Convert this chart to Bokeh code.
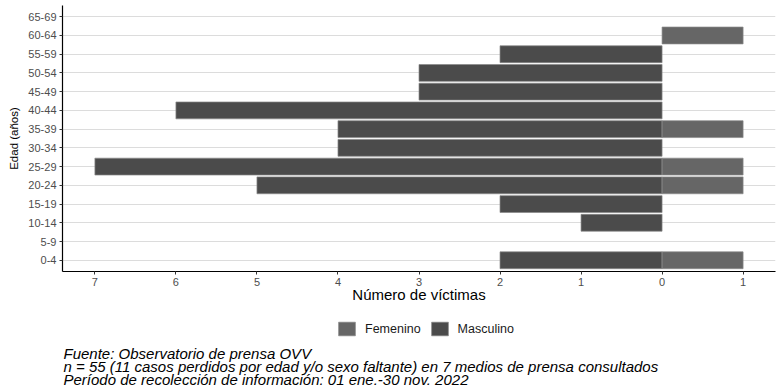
from bokeh.plotting import figure
from bokeh.models import (Range1d, FixedTicker, Legend, LegendItem, Label,
                          ColumnDataSource)
from bokeh.layouts import column
from bokeh.embed import file_html
from bokeh.resources import INLINE

# ---- data ----
edades = ["0-4", "5-9", "10-14", "15-19", "20-24", "25-29", "30-34",
          "35-39", "40-44", "45-49", "50-54", "55-59", "60-64", "65-69"]
masculino = [2, 0, 1, 2, 5, 7, 4, 4, 6, 3, 3, 2, 0, 0]
femenino = [1, 0, 0, 0, 1, 1, 0, 1, 0, 0, 0, 0, 1, 0]
x_ticks = [-7, -6, -5, -4, -3, -2, -1, 0, 1]
caption = ["Fuente: Observatorio de prensa OVV",
           "n = 55 (11 casos perdidos por edad y/o sexo faltante) en 7 medios de prensa consultados",
           "Período de recolección de información: 01 ene.-30 nov. 2022"]

FONT = "Liberation Sans"
C_M = "#4b4b4b"
C_F = "#666666"
C_LINE = "#8a8a8a"

ym = [i for i, v in enumerate(masculino) if v > 0]
yf = [i for i, v in enumerate(femenino) if v > 0]
src_m = ColumnDataSource(dict(y=ym, left=[-masculino[i] for i in ym],
                              right=[0] * len(ym)))
src_f = ColumnDataSource(dict(y=yf, left=[0] * len(yf),
                              right=[femenino[i] for i in yf]))

L, R = 62, 775
H1 = 307
p = figure(width=781, height=H1, output_backend="svg", toolbar_location=None,
           x_range=Range1d(-7.4, 1.4), y_range=Range1d(-0.6, 13.6),
           frame_width=R - L, frame_height=266,
           min_border_left=L, min_border_right=781 - R, min_border_top=5,
           min_border_bottom=H1 - 271)
p.outline_line_color = None

rm = p.hbar(y="y", left="left", right="right", height=0.9, source=src_m,
            fill_color=C_M, line_color=C_LINE, line_width=0.7)
rf = p.hbar(y="y", left="left", right="right", height=0.9, source=src_f,
            fill_color=C_F, line_color=C_LINE, line_width=0.7)

p.xaxis.ticker = FixedTicker(ticks=x_ticks)
p.xaxis.major_label_overrides = {t: str(abs(t)) for t in x_ticks}
pos = list(range(len(edades)))
p.yaxis.ticker = FixedTicker(ticks=pos)
p.yaxis.major_label_overrides = {i: e for i, e in enumerate(edades)}
for ax in (p.xaxis[0], p.yaxis[0]):
    ax.axis_line_color = "black"
    ax.axis_line_width = 1.2
    ax.major_tick_line_color = "#333333"
    ax.major_tick_in = 0
    ax.major_tick_out = 3
    ax.minor_tick_line_color = None
    ax.major_label_text_font = FONT
    ax.major_label_text_font_size = "11px"
    ax.major_label_text_color = "#4d4d4d"
    ax.axis_label_text_font = FONT
    ax.axis_label_text_font_style = "normal"
    ax.axis_label_text_color = "black"
p.xaxis.axis_label = "Número de víctimas"
p.yaxis.axis_label = "Edad (años)"
p.xaxis.axis_label_text_font_size = "15px"
p.yaxis.axis_label_text_font_size = "11.5px"
p.xaxis.major_label_standoff = 3
p.xaxis.axis_label_standoff = -3
p.yaxis.major_label_standoff = 3
p.yaxis.axis_label_standoff = 5

p.xgrid.grid_line_color = None
p.ygrid.grid_line_color = "#dcdcdc"
p.ygrid.grid_line_width = 1
p.ygrid.ticker = FixedTicker(ticks=pos)

# ---- bottom strip: legend + caption ----
H2 = 390 - H1
p2 = figure(width=781, height=H2, output_backend="svg", toolbar_location=None,
            x_range=Range1d(L, R), y_range=Range1d(390, H1),
            frame_width=R - L, frame_height=H2,
            x_axis_location=None, y_axis_location=None, min_border=0,
            min_border_left=L, min_border_right=781 - R)
p2.grid.visible = False
p2.outline_line_color = None
nan = float("nan")
lf = p2.hbar(y=[nan], left=[nan], right=[nan], height=0.9, fill_color=C_F,
             line_color=C_LINE, line_width=0.7)
lm = p2.hbar(y=[nan], left=[nan], right=[nan], height=0.9, fill_color=C_M,
             line_color=C_LINE, line_width=0.7)
legend = Legend(items=[LegendItem(label="Femenino", renderers=[lf]),
                       LegendItem(label="Masculino", renderers=[lm])],
                orientation="horizontal", location=(336 - L, 390 - 337),
                glyph_width=21, glyph_height=17,
                label_text_font=FONT, label_text_font_size="12.5px",
                label_text_color="#1a1a1a", border_line_color=None,
                background_fill_alpha=0, spacing=8, margin=0, padding=0,
                label_standoff=8)
p2.add_layout(legend, "center")

for i, line in enumerate(caption):
    p2.add_layout(Label(x=63, y=353 + 13 * i, text=line, text_font=FONT,
                        text_font_size="15px", text_font_style="italic",
                        text_color="black", text_baseline="middle",
                        text_align="left"))

open("out.html", "w").write(file_html(column(p, p2, spacing=0), INLINE))
